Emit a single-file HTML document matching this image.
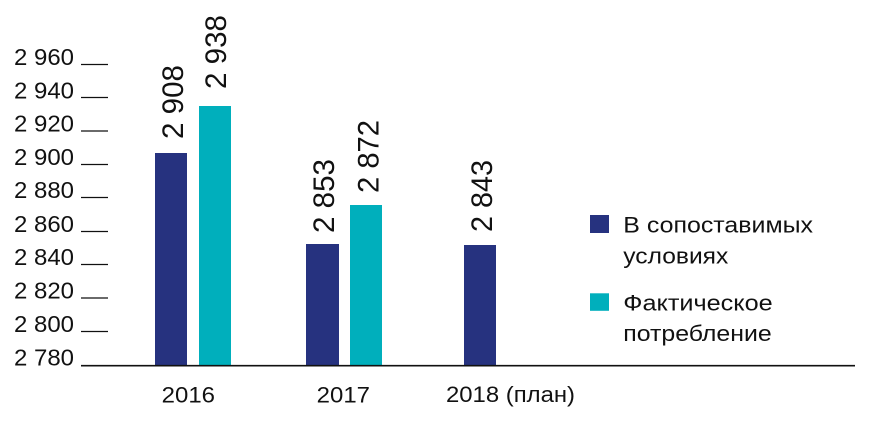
<!DOCTYPE html>
<html>
<head>
<meta charset="utf-8">
<style>
  html, body { margin: 0; padding: 0; background: #ffffff; }
  svg { display: block; }
  text { font-family: "Liberation Sans", Arial, sans-serif; fill: #111111; }
</style>
</head>
<body>
<svg width="873" height="423" viewBox="0 0 873 423" xmlns="http://www.w3.org/2000/svg">
  <rect x="0" y="0" width="873" height="423" fill="#ffffff"/>

  <!-- Y tick marks -->
  <g stroke="#111111" stroke-width="1.2">
    <line x1="81" y1="64.5" x2="108" y2="64.5"/>
    <line x1="81" y1="97.5" x2="108" y2="97.5"/>
    <line x1="81" y1="131" x2="108" y2="131"/>
    <line x1="81" y1="164.5" x2="108" y2="164.5"/>
    <line x1="81" y1="197.5" x2="108" y2="197.5"/>
    <line x1="81" y1="231.5" x2="108" y2="231.5"/>
    <line x1="81" y1="264.5" x2="108" y2="264.5"/>
    <line x1="81" y1="298" x2="108" y2="298"/>
    <line x1="81" y1="331.5" x2="108" y2="331.5"/>
  </g>

  <!-- Y tick labels -->
  <g font-size="23" text-anchor="end">
    <text x="74" y="65" textLength="60" lengthAdjust="spacingAndGlyphs">2 960</text>
    <text x="74" y="98.3" textLength="60" lengthAdjust="spacingAndGlyphs">2 940</text>
    <text x="74" y="131.7" textLength="60" lengthAdjust="spacingAndGlyphs">2 920</text>
    <text x="74" y="165" textLength="60" lengthAdjust="spacingAndGlyphs">2 900</text>
    <text x="74" y="198" textLength="60" lengthAdjust="spacingAndGlyphs">2 880</text>
    <text x="74" y="232" textLength="60" lengthAdjust="spacingAndGlyphs">2 860</text>
    <text x="74" y="265" textLength="60" lengthAdjust="spacingAndGlyphs">2 840</text>
    <text x="74" y="298.7" textLength="60" lengthAdjust="spacingAndGlyphs">2 820</text>
    <text x="74" y="332" textLength="60" lengthAdjust="spacingAndGlyphs">2 800</text>
    <text x="74" y="365.5" textLength="60" lengthAdjust="spacingAndGlyphs">2 780</text>
  </g>

  <!-- Bars -->
  <rect x="155" y="153" width="32" height="212.5" fill="#26327F"/>
  <rect x="199" y="106" width="32" height="259.5" fill="#00AFBC"/>
  <rect x="306" y="244" width="33" height="121.5" fill="#26327F"/>
  <rect x="350" y="205" width="32" height="160.5" fill="#00AFBC"/>
  <rect x="464" y="245" width="32" height="120.5" fill="#26327F"/>

  <!-- Axis line -->
  <line x1="81" y1="365.7" x2="855" y2="365.7" stroke="#111111" stroke-width="1.6"/>

  <!-- Bar value labels (rotated) -->
  <g font-size="30">
    <text transform="translate(183,139) rotate(-90)" x="0" y="0" textLength="74" lengthAdjust="spacingAndGlyphs">2 908</text>
    <text transform="translate(226,89) rotate(-90)" x="0" y="0" textLength="74" lengthAdjust="spacingAndGlyphs">2 938</text>
    <text transform="translate(334,233) rotate(-90)" x="0" y="0" textLength="74" lengthAdjust="spacingAndGlyphs">2 853</text>
    <text transform="translate(378.5,193) rotate(-90)" x="0" y="0" textLength="73" lengthAdjust="spacingAndGlyphs">2 872</text>
    <text transform="translate(492,232) rotate(-90)" x="0" y="0" textLength="72" lengthAdjust="spacingAndGlyphs">2 843</text>
  </g>

  <!-- X labels -->
  <g font-size="22.5">
    <text x="161.7" y="402.3" textLength="53.3" lengthAdjust="spacingAndGlyphs">2016</text>
    <text x="316.7" y="402.3" textLength="53.3" lengthAdjust="spacingAndGlyphs">2017</text>
    <text x="446" y="402" textLength="129" lengthAdjust="spacingAndGlyphs">2018 (план)</text>
  </g>

  <!-- Legend -->
  <rect x="590" y="215" width="19" height="18" fill="#26327F"/>
  <rect x="590" y="293.3" width="19" height="17.5" fill="#00AFBC"/>
  <g font-size="22">
    <text x="623.3" y="232.3" textLength="189.7" lengthAdjust="spacingAndGlyphs">В сопоставимых</text>
    <text x="623.3" y="263.3" textLength="105" lengthAdjust="spacingAndGlyphs">условиях</text>
    <text x="623.3" y="310.7" textLength="149.4" lengthAdjust="spacingAndGlyphs">Фактическое</text>
    <text x="623.3" y="341" textLength="148.4" lengthAdjust="spacingAndGlyphs">потребление</text>
  </g>
</svg>
</body>
</html>
